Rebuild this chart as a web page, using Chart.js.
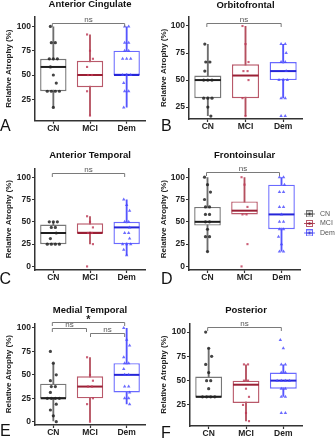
<!DOCTYPE html>
<html><head><meta charset="utf-8">
<script src="https://cdn.jsdelivr.net/npm/chart.js@4.4.0/dist/chart.umd.min.js"></script>
<style>
html,body{margin:0;padding:0;background:#fff;width:335px;height:440px;overflow:hidden;position:relative;font-family:'Liberation Sans',Arial,sans-serif}
canvas{position:absolute;display:block}
.lt{position:absolute;font-size:16px;line-height:16px;color:#111}
</style></head><body>
<canvas id="cA" width="157" height="148" style="left:0;top:-3px"></canvas>
<canvas id="cB" width="178" height="148" style="left:157px;top:-3px"></canvas>
<canvas id="cC" width="157" height="148" style="left:0;top:142px"></canvas>
<canvas id="cD" width="178" height="148" style="left:157px;top:142px"></canvas>
<canvas id="cE" width="157" height="153" style="left:0;top:287px"></canvas>
<canvas id="cF" width="178" height="153" style="left:157px;top:287px"></canvas>
<div class="lt" style="left:0;top:118px">A</div>
<div class="lt" style="left:161px;top:118px">B</div>
<div class="lt" style="left:-0.5px;top:271px">C</div>
<div class="lt" style="left:161px;top:271px">D</div>
<div class="lt" style="left:0;top:423px">E</div>
<div class="lt" style="left:161px;top:425px">F</div>
<script>
// ---------- data ----------
const categories = ['CN', 'MCI', 'Dem'];
const yAxisTitle = 'Relative Atrophy (%)';
const ticks25 = [25, 50, 75, 100];
const ticks0 = [0, 25, 50, 75, 100];

// Anterior Cingulate
const acCN  = [100, 83.3, 83.3, 66.7, 66.7, 66.7, 58.3, 50, 41.7, 33.3, 33.3, 33.3, 33.3, 16.7];
const acMCI = [91.7, 75, 66.7, 58.3, 50, 50, 33.3, 8.3];
const acDem = [100, 100, 83.3, 83.3, 75, 75, 66.7, 66.7, 66.7, 50, 50, 50, 41.7, 33.3, 33.3, 16.7];
const acStats = [[16.7, 33.3, 58.3, 66.7, 100], [8.3, 37.5, 50, 64.6, 91.7], [16.7, 50, 50, 75, 100]]; // lo,q1,med,q3,hi
const acSig = [[0, 2, 104, 'ns']];

// Orbitofrontal
const ofCN  = [83.3, 66.7, 66.7, 58.3, 50, 50, 50, 33.3, 33.3, 33.3, 25, 16.7];
const ofMCI = [100, 83.3, 66.7, 58.3, 58.3, 50, 33.3, 16.7];
const ofDem = [83.3, 83.3, 75, 66.7, 66.7, 58.3, 50, 50, 50, 33.3, 33.3, 16.7, 16.7];
const ofStats = [[16.7, 33.3, 50, 54.2, 83.3], [16.7, 33.3, 54.2, 64.6, 100], [33.3, 50, 58.3, 66.7, 83.3]];
const ofSig = [[0, 2, 103, 'ns']];

// Anterior Temporal
const atCN  = [50, 50, 50, 43.75, 43.75, 37.5, 31.25, 25, 25, 25, 25];
const atMCI = [56.25, 50, 43.75, 37.5, 37.5, 25, 0];
const atDem = [75, 68.75, 62.5, 50, 50, 43.75, 37.5, 37.5, 31.25, 25, 25, 25, 18.75, 12.5];
const atStats = [[25, 25, 37.5, 46.9, 50], [25, 37.5, 37.5, 48.4, 56.25], [12.5, 25, 43.75, 50, 75]];
const atSig = [[0, 2, 105, 'ns']];

// Frontoinsular
const fiCN  = [100, 91.7, 83.3, 75, 66.7, 66.7, 58.3, 58.3, 50, 50, 41.7, 33.3, 33.3, 16.7];
const fiMCI = [100, 91.7, 66.7, 58.3, 58.3, 25, 0];
const fiDem = [100, 100, 91.7, 83.3, 83.3, 66.7, 66.7, 58.3, 50, 50, 41.7, 41.7, 33.3, 25, 16.7, 16.7];
const fiStats = [[16.7, 45.8, 50, 66.7, 100], [58.3, 58.3, 62.5, 72.9, 100], [16.7, 41.7, 58.3, 91.7, 100]];
const fiSig = [[0, 2, 106, 'ns']];

// Medial Temporal
const mtCN  = [75, 62.5, 50, 43.75, 37.5, 37.5, 31.25, 25, 25, 25, 25, 18.75, 12.5, 6.25, 0];
const mtMCI = [68.75, 50, 43.75, 37.5, 37.5, 25, 18.75, 0];
const mtDem = [100, 87.5, 81.25, 68.75, 62.5, 62.5, 56.25, 50, 50, 37.5, 37.5, 31.25, 25, 25, 18.75];
const mtStats = [[0, 25, 25, 40.6, 62.5], [0, 25, 37.5, 48.4, 68.75], [18.75, 31.25, 50, 62.5, 100]];
const mtSig = [[0, 2, 106.5, '*'], [0, 1, 100, 'ns'], [1, 2, 94.6, 'ns']];

// Posterior
const poCN  = [100, 83.3, 75, 66.7, 58.3, 50, 50, 41.7, 33.3, 33.3, 33.3, 33.3];
const poMCI = [66.7, 66.7, 50, 50, 41.7, 33.3, 25, 16.7, 8.3];
const poDem = [91.7, 83.3, 66.7, 66.7, 58.3, 58.3, 50, 50, 50, 50, 41.7, 41.7, 33.3, 33.3, 16.7, 16.7];
const poStats = [[33.3, 33.3, 33.3, 54.2, 83.3], [8.3, 27.1, 45.8, 50, 66.7], [33.3, 41.7, 50, 58.3, 66.7]];
const poSig = [[0, 2, 105.5, 'ns']];

// ---------- styles ----------
const FONT = "'Liberation Sans', Arial, sans-serif";
Chart.defaults.font.family = FONT;
const boxColors = ['#777777', '#b9596a', '#6a6aff'];
const whiskColors = ['#6e6e6e', '#b5505f', '#5555ff'];
const medColors = ['#1e1e1e', '#9a2035', '#2525d8'];
const ptColors = ['rgba(35,35,35,0.85)', 'rgba(190,55,85,0.8)', 'rgba(70,70,255,0.8)'];
const ptStyles = ['circle', 'rect', 'triangle'];
const ptRadius = [1.6, 1.5, 2.0];

function jitter(vals) {
  const counts = {}, seen = {};
  vals.forEach(v => counts[v] = (counts[v] || 0) + 1);
  return vals.map((v, i) => {
    const n = counts[v];
    seen[v] = (seen[v] === undefined ? -1 : seen[v]) + 1;
    if (n === 1) return ((i % 3) - 1) * 0.08;
    return (seen[v] - (n - 1) / 2) * 0.11;
  });
}

function legendIcon(i) {
  const c = document.createElement('canvas');
  c.width = 11; c.height = 7;
  const g = c.getContext('2d');
  g.strokeStyle = boxColors[i]; g.lineWidth = 1;
  g.beginPath(); g.moveTo(0, 3.5); g.lineTo(11, 3.5); g.stroke();
  g.fillStyle = '#fff'; g.fillRect(2, 0.5, 7, 6);
  g.strokeRect(2.5, 0.5, 6, 6);
  g.strokeStyle = medColors[i]; g.lineWidth = 1.3;
  g.beginPath(); g.moveTo(2.5, 3.5); g.lineTo(8.5, 3.5); g.stroke();
  g.fillStyle = medColors[i];
  g.beginPath(); g.arc(5.5, 3.5, 1.2, 0, Math.PI * 2); g.fill();
  return c;
}

function makePanel(id, o) {
  const xh = 16;
  const legendW = 35;
  const padRight = o.legend ? o.W - o.area.r - legendW : o.W - o.area.r;
  const datasets = [
    { type: 'bar', order: 2, grouped: false,
      data: o.stats.map((s, i) => ({ x: i, y: [s[0], s[4]] })), backgroundColor: whiskColors, borderWidth: 0,
      barPercentage: 0.05, categoryPercentage: 1 },
    { type: 'bar', order: 1, grouped: false,
      data: o.stats.map((s, i) => ({ x: i, y: [s[1], s[3]] })), backgroundColor: '#ffffff', borderColor: boxColors,
      borderWidth: 1.4, borderSkipped: false, barPercentage: 0.72, categoryPercentage: 1 }
  ];
  o.pts.forEach((vals, g) => {
    const j = jitter(vals);
    datasets.push({ type: 'scatter', order: 0, clip: false,
      data: vals.map((v, k) => ({ x: g + j[k], y: v })),
      pointStyle: ptStyles[g], pointRadius: ptRadius[g], backgroundColor: ptColors[g],
      borderWidth: 0 });
  });
  const boxPlugin = {
    id: 'medians',
    afterDatasetDraw(chart, args) {
      if (args.index !== 1) return;
      const ctx = chart.ctx, ys = chart.scales.y;
      ctx.save();
      args.meta.data.forEach((el, i) => {
        const y = ys.getPixelForValue(o.stats[i][2]);
        ctx.strokeStyle = medColors[i]; ctx.lineWidth = 2;
        ctx.beginPath(); ctx.moveTo(el.x - el.width / 2 + 0.5, y); ctx.lineTo(el.x + el.width / 2 - 0.5, y); ctx.stroke();
      });
      ctx.restore();
    }
  };
  const sigPlugin = {
    id: 'sig',
    afterDraw(chart) {
      const ctx = chart.ctx, xs = chart.scales.x, ys = chart.scales.y;
      ctx.save();
      o.sig.forEach(([a, b, lv, txt]) => {
        const inset = (b - a === 1) ? 1.5 : 0;
        const xa = xs.getPixelForValue(a) + (a > 0 ? inset : 0) - 1;
        const xb = xs.getPixelForValue(b) - (b < 2 ? inset : 0) - 2;
        const y = Math.round(ys.getPixelForValue(lv)) + 0.5;
        ctx.strokeStyle = '#7a7a7a'; ctx.lineWidth = 1;
        ctx.beginPath(); ctx.moveTo(xa, y + 3.5); ctx.lineTo(xa, y); ctx.lineTo(xb, y); ctx.lineTo(xb, y + 3.5); ctx.stroke();
        ctx.textAlign = 'center';
        ctx.textBaseline = 'alphabetic';
        if (txt === '*') {
          ctx.fillStyle = '#222'; ctx.font = 'bold 11px ' + FONT;
          ctx.fillText(txt, (xa + xb) / 2, y + 0.5);
        } else {
          ctx.fillStyle = '#555'; ctx.font = '8px ' + FONT;
          ctx.fillText(txt, (xa + xb) / 2, y - 1.5);
        }
      });
      ctx.restore();
    }
  };
  const gridOpts = { display: true, drawOnChartArea: false, drawTicks: true, tickLength: 3, tickWidth: 1.2, tickColor: '#333', offset: false };
  const borderOpts = { display: true, color: '#333', width: 1.5 };
  const legendOpts = o.legend ? {
    display: true, position: 'right', fullSize: false, align: 'center', maxWidth: legendW,
    title: { display: true, text: ' ', padding: 0, font: { size: 8.6, lineHeight: 1 } },
    labels: {
      usePointStyle: true, pointStyleWidth: 14, padding: 2.5, color: '#555',
      font: { size: 7 },
      generateLabels: () => categories.map((c, i) => ({
        text: c, pointStyle: legendIcon(i), fillStyle: boxColors[i], strokeStyle: boxColors[i],
        lineWidth: 0, hidden: false, datasetIndex: 0, fontColor: '#555'
      }))
    }
  } : { display: false };
  return new Chart(document.getElementById(id), {
    type: 'bar',
    data: { datasets },
    plugins: [boxPlugin, sigPlugin],
    options: {
      responsive: false, animation: false, events: [],
      layout: { padding: { left: 0, top: 0, right: padRight, bottom: o.H - o.area.b - xh } },
      plugins: {
        tooltip: { enabled: false },
        legend: legendOpts,
        title: { display: true, text: o.title, fullSize: false, color: '#111',
          font: { size: 9.5, weight: 'bold', lineHeight: 1.2 },
          padding: { top: o.tc - 5.7, bottom: o.area.t - o.tc - 5.7 } }
      },
      scales: {
        x: { type: 'linear', min: -0.5, max: 2.5, offset: false, grid: gridOpts, border: borderOpts,
          afterBuildTicks: s => { s.ticks = categories.map((c, i) => ({ value: i })); },
          ticks: { padding: 0, color: '#222', font: { size: 8.5, weight: 'bold' }, callback: v => categories[v] },
          afterFit: s => { s.height = xh; } },
        y: { type: 'linear', min: o.yMin, max: o.yMax,
          afterBuildTicks: s => { s.ticks = o.ticks.map(v => ({ value: v })); },
          afterFit: s => { s.width = o.area.l; },
          grid: gridOpts, border: borderOpts,
          ticks: { padding: 1, color: '#222', font: { size: 8.5, weight: 'bold' } },
          title: { display: true, text: yAxisTitle, color: '#222', font: { size: 8, weight: 'bold', lineHeight: 1.2 },
            padding: { top: o.ytc - 4.8, bottom: 0 } } }
      }
    }
  });
}

makePanel('cA', { title: 'Anterior Cingulate', pts: [acCN, acMCI, acDem], stats: acStats, sig: acSig,
  yMin: 3, yMax: 110, ticks: ticks25, W: 157, H: 148, area: { l: 35, r: 145, t: 19.7, b: 123.7 }, tc: 7.8, ytc: 8.3 });
makePanel('cB', { title: 'Orbitofrontal', pts: [ofCN, ofMCI, ofDem], stats: ofStats, sig: ofSig,
  yMin: 14, yMax: 108.6, ticks: ticks25, W: 178, H: 148, area: { l: 32, r: 145, t: 19.7, b: 122 }, tc: 8, ytc: 7 });
makePanel('cC', { title: 'Anterior Temporal', pts: [atCN, atMCI, atDem], stats: atStats, sig: atSig,
  yMin: -4, yMax: 110, ticks: ticks0, W: 157, H: 148, area: { l: 35, r: 145, t: 26.3, b: 128 }, tc: 13.3, ytc: 8.3 });
makePanel('cD', { title: 'Frontoinsular', pts: [fiCN, fiMCI, fiDem], stats: fiStats, sig: fiSig,
  yMin: -4, yMax: 110, ticks: ticks0, W: 178, H: 148, area: { l: 32, r: 143, t: 26.3, b: 128 }, tc: 13.3, ytc: 7, legend: true });
makePanel('cE', { title: 'Medial Temporal', pts: [mtCN, mtMCI, mtDem], stats: mtStats, sig: mtSig,
  yMin: -3.5, yMax: 105, ticks: ticks0, W: 157, H: 153, area: { l: 35, r: 145, t: 36.3, b: 138 }, tc: 23, ytc: 8.3 });
makePanel('cF', { title: 'Posterior', pts: [poCN, poMCI, poDem], stats: poStats, sig: poSig,
  yMin: 3.3, yMax: 109, ticks: ticks25, W: 178, H: 153, area: { l: 33, r: 145, t: 36.3, b: 139 }, tc: 23, ytc: 7 });
</script>
</body></html>
